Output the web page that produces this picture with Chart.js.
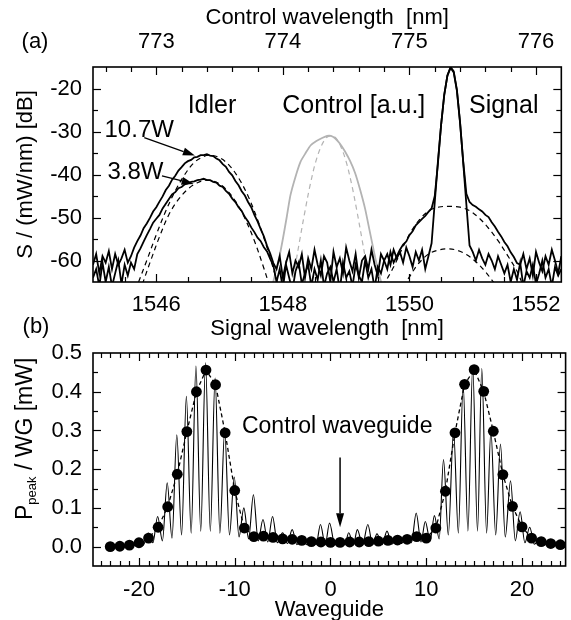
<!DOCTYPE html>
<html><head><meta charset="utf-8">
<script src="https://cdn.jsdelivr.net/npm/chart.js@4.4.1/dist/chart.umd.min.js"></script>
<style>
html,body{margin:0;padding:0;background:#fff;overflow:hidden;width:571px;height:620px;}
#ca{position:absolute;left:0;top:0;}
#cb{position:absolute;left:0;top:300px;}
</style></head><body>
<canvas id="ca" width="571" height="345"></canvas>
<canvas id="cb" width="571" height="320"></canvas>
<script>
// ---------------- DATA: panel (a) ----------------
const sigTicks = [1546, 1548, 1550, 1552];
const ctrlTicks = [773, 774, 775, 776];
const dbTicks = [-60, -50, -40, -30, -20];

const wlGrid = [
1545.00,1545.05,1545.10,1545.15,1545.20,1545.25,1545.30,1545.35,1545.40,1545.45,
1545.50,1545.55,1545.60,1545.65,1545.70,1545.75,1545.80,1545.85,1545.90,1545.95,
1546.00,1546.05,1546.10,1546.15,1546.20,1546.25,1546.30,1546.35,1546.40,1546.45,
1546.50,1546.55,1546.60,1546.65,1546.70,1546.75,1546.80,1546.85,1546.90,1546.95,
1547.00,1547.05,1547.10,1547.15,1547.20,1547.25,1547.30,1547.35,1547.40,1547.45,
1547.50,1547.55,1547.60,1547.65,1547.70,1547.75,1547.80,1547.85,1547.90,1547.95,
1548.00,1548.05,1548.10,1548.15,1548.20,1548.25,1548.30,1548.35,1548.40,1548.45,
1548.50,1548.55,1548.60,1548.65,1548.70,1548.75,1548.80,1548.85,1548.90,1548.95,
1549.00,1549.05,1549.10,1549.15,1549.20,1549.25,1549.30,1549.35,1549.40,1549.45,
1549.50,1549.55,1549.60,1549.65,1549.70,1549.75,1549.80,1549.85,1549.90,1549.95,
1550.00,1550.05,1550.10,1550.15,1550.20,1550.25,1550.30,1550.35,1550.40,1550.45,
1550.50,1550.55,1550.60,1550.65,1550.70,1550.75,1550.80,1550.85,1550.90,1550.95,
1551.00,1551.05,1551.10,1551.15,1551.20,1551.25,1551.30,1551.35,1551.40,1551.45,
1551.50,1551.55,1551.60,1551.65,1551.70,1551.75,1551.80,1551.85,1551.90,1551.95,
1552.00,1552.05,1552.10,1552.15,1552.20,1552.25,1552.30,1552.35,1552.40];

const spec107W = [
-61,-58.5,-63,-59,-60.5,-57.8,-62,-58.5,-61,-59.5,
-57.5,-60.5,-59,-57,-55.5,-54.2,-52.5,-51.4,-50.1,-48.6,
-47.6,-46.3,-45.1,-43.6,-42.6,-41.2,-40.3,-39.1,-38.3,-37.4,
-36.9,-36.6,-36.0,-35.9,-35.5,-35.5,-35.3,-35.6,-35.7,-36.3,
-36.7,-37.6,-38.2,-39.4,-40.2,-41.5,-42.5,-43.9,-44.9,-46.4,
-47.6,-49.4,-50.9,-52.7,-54.4,-56.6,-58.4,-60.6,-62,-59,
-64,-60.5,-58,-63,-60,-61.5,-58.5,-64,-59.5,-62,
-57.5,-61,-63.5,-59,-60.5,-65,-58,-61.5,-59.5,-63,
-57,-60,-62.5,-58.5,-64,-60,-59,-62,-57.5,-61,
-63.5,-58.5,-60,-62,-58,-60.5,-59,-57.5,-56.3,-55.6,
-54.1,-53.2,-51.8,-51.1,-50.3,-49.6,-48.7,-47.9,-45,-37.5,
-28.5,-21.5,-17,-15.2,-16.3,-20.5,-28,-37,-44.5,-46.4,
-47.1,-47.5,-48.1,-48.6,-49.4,-49.9,-51.1,-52.1,-53.3,-54.4,
-55.7,-56.7,-58.1,-59.2,-60.6,-61,-58.5,-62,-59.5,-63.5,
-58,-60.5,-62.5,-59,-61,-57.5,-60,-63,-59];

const spec38W = [
-64,-62,-66,-60.5,-65,-61.5,-66,-63,-60,-65.5,
-61,-63.5,-60.5,-62,-58.5,-57.2,-55.6,-54.1,-52.7,-51.2,
-50.3,-49.4,-47.9,-46.8,-45.7,-44.6,-44.1,-43.2,-42.9,-42.3,
-42.1,-41.7,-41.6,-41.3,-41.2,-41.0,-41.3,-41.3,-41.7,-41.9,
-42.6,-42.9,-43.8,-44.5,-45.6,-46.4,-47.6,-48.5,-49.9,-50.9,
-52.3,-53.4,-54.7,-55.5,-56.9,-57.9,-59.6,-61.2,-65,-62,
-66.5,-61,-64,-67,-62.5,-60.5,-65.5,-63,-61,-66,
-62,-64.5,-60,-66,-63,-61.5,-65,-62,-67,-60.5,
-64,-62.5,-66,-61,-63.5,-65,-60,-64,-62,-66.5,
-61.5,-63,-60,-58.5,-61,-57.5,-59.5,-58,-60.5,-57,
-59,-61.5,-58,-60,-57.5,-62,-59,-56,-46.5,-37,
-28.5,-21.5,-17,-15.0,-16,-20.3,-27.8,-37.3,-47,-56.5,
-58,-60,-57.5,-59.5,-61,-58.5,-60,-62,-59,-61,
-63,-61,-65,-62,-64.5,-60.5,-66,-62.5,-64,-61,
-65.5,-63,-60,-64,-62,-66,-61.5,-63.5,-62];

const fitIdler107W = [[1545.72,-65],[1545.85,-60],[1546.00,-54],[1546.15,-48.5],[1546.30,-43.8],[1546.45,-40],[1546.60,-37.2],[1546.75,-35.8],[1546.85,-35.5],[1547.00,-36.1],[1547.15,-37.8],[1547.30,-40.8],[1547.45,-45],[1547.60,-50.5],[1547.75,-57],[1547.90,-64.5],[1547.95,-67]];
const fitIdler38W = [[1545.78,-65.5],[1545.90,-60.5],[1546.05,-54.5],[1546.20,-49.3],[1546.35,-45.8],[1546.50,-43.4],[1546.65,-41.9],[1546.80,-41.3],[1546.95,-41.8],[1547.10,-43.4],[1547.25,-46.2],[1547.40,-50.2],[1547.55,-55.4],[1547.70,-61.8],[1547.78,-65.5]];
const fitSignal107W = [[1549.58,-66],[1549.75,-61.5],[1549.90,-56.8],[1550.05,-52.7],[1550.20,-49.8],[1550.35,-48.1],[1550.50,-47.5],[1550.65,-47.4],[1550.80,-47.6],[1550.95,-48.4],[1551.10,-50.1],[1551.25,-52.5],[1551.40,-55.4],[1551.55,-58.8],[1551.70,-62.5],[1551.80,-66]];
const fitSignal38W = [[1549.90,-66],[1550.00,-63.8],[1550.10,-61.5],[1550.20,-59.8],[1550.30,-58.5],[1550.45,-57.6],[1550.60,-57.3],[1550.75,-57.6],[1550.90,-58.6],[1551.05,-60.3],[1551.20,-62.6],[1551.30,-64.5],[1551.38,-66]];
const controlSpec = [[1547.83,-66],[1547.94,-59.5],[1548.00,-55],[1548.06,-50],[1548.12,-44.8],[1548.20,-40.5],[1548.28,-37],[1548.36,-35],[1548.44,-33.2],[1548.53,-32.2],[1548.62,-31.5],[1548.70,-31.0],[1548.76,-31.0],[1548.82,-31.5],[1548.90,-32.8],[1548.98,-34.6],[1549.06,-36.8],[1549.14,-39.6],[1549.22,-43.5],[1549.30,-48],[1549.37,-53],[1549.44,-58],[1549.50,-62],[1549.57,-66]];
const controlFit = [[1548.15,-66],[1548.20,-61],[1548.27,-55],[1548.35,-48.5],[1548.43,-42.5],[1548.52,-37],[1548.61,-33.3],[1548.69,-31.4],[1548.76,-31.0],[1548.83,-31.4],[1548.91,-33.3],[1549.00,-37],[1549.09,-42.5],[1549.17,-48.5],[1549.25,-55],[1549.32,-61],[1549.37,-66]];

// ---------------- DATA: panel (b) ----------------
const wgTicks = [-20, -10, 0, 10, 20];
const powTicks = [0, 0.1, 0.2, 0.3, 0.4, 0.5];
const wgIndex = [-23,-22,-21,-20,-19,-18,-17,-16,-15,-14,-13,-12,-11,-10,-9,-8,-7,-6,-5,-4,-3,-2,-1,0,1,2,3,4,5,6,7,8,9,10,11,12,13,14,15,16,17,18,19,20,21,22,23,24];
const wgPeakPower = [0.000,0.001,0.004,0.010,0.022,0.050,0.103,0.187,0.297,0.400,0.456,0.418,0.294,0.145,0.048,0.026,0.027,0.024,0.020,0.019,0.016,0.013,0.012,0.011,0.011,0.012,0.012,0.013,0.014,0.016,0.017,0.019,0.026,0.022,0.048,0.143,0.294,0.419,0.457,0.401,0.298,0.186,0.104,0.051,0.022,0.013,0.008,0.005];
const fringe = [
[-21.05,0.006],[-20.55,0.002],[-20.05,0.012],[-19.55,0.004],[-19.05,0.035],[-18.55,0.010],
[-18.05,0.078],[-17.55,0.015],[-17.05,0.165],[-16.55,0.022],[-16.05,0.289],[-15.55,0.030],
[-15.05,0.388],[-14.55,0.035],[-14.05,0.466],[-13.55,0.040],[-13.05,0.475],[-12.55,0.040],
[-12.05,0.435],[-11.55,0.035],[-11.05,0.300],[-10.55,0.030],[-10.05,0.180],[-9.55,0.025],
[-9.05,0.100],[-8.55,0.020],[-8.05,0.134],[-7.55,0.015],[-7.05,0.070],[-6.55,0.012],
[-6.05,0.078],[-5.55,0.010],[-5.0,0.036],[-4.5,0.008],[-4.0,0.044],[-3.5,0.005],
[-3.0,0.020],[-2.5,0.005],[-2.0,0.015],[-1.5,0.005],[-1.05,0.057],[-0.55,0.005],
[-0.1,0.061],[0.45,0.005],[1.0,0.012],[1.5,0.005],[1.9,0.036],[2.4,0.005],
[2.8,0.044],[3.35,0.005],[3.9,0.057],[4.4,0.005],[4.85,0.033],[5.4,0.005],
[5.9,0.040],[6.4,0.006],[6.9,0.020],[7.4,0.008],[7.9,0.025],[8.45,0.010],
[8.95,0.087],[9.45,0.012],[9.9,0.065],[10.4,0.015],[10.85,0.080],[11.35,0.020],
[11.8,0.225],[12.3,0.030],[12.85,0.300],[13.35,0.035],[13.85,0.420],[14.35,0.040],
[14.85,0.465],[15.35,0.040],[15.8,0.460],[16.3,0.035],[16.75,0.300],[17.25,0.030],
[17.75,0.265],[18.25,0.025],[18.8,0.170],[19.3,0.015],[19.8,0.090],[20.3,0.010],
[20.8,0.050],[21.3,0.006],[21.8,0.020],[22.3,0.004],[22.8,0.008],[23.3,0.002],
[23.8,0.005],[24.3,0.002]];

// ---------------- helpers ----------------
const FF = "'Liberation Sans', Arial, Helvetica, sans-serif";
Chart.defaults.font.family = FF;
Chart.defaults.font.size = 22;
Chart.defaults.color = '#000';
const pairs = a => a.map(p => ({x: p[0], y: p[1]}));
const zipXY = (xs, ys) => xs.map((x, i) => ({x: x, y: ys[i]}));

function tickList(from, to, step, majors, majLen, minLen) {
  const out = [];
  for (let v = from; v <= to + 1e-9; v += step) {
    const r = Math.round(v * 1000) / 1000;
    const isMaj = majors.some(m => Math.abs(m - r) < 1e-6);
    out.push([r, isMaj ? majLen : minLen]);
  }
  return out;
}

const framePlugin = {
  id: 'frame',
  afterDatasetsDraw(chart, args, o) {
    const {ctx, chartArea: a} = chart;
    const X = chart.scales.x, Y = chart.scales.y;
    const T = o.topScale ? chart.scales[o.topScale] : X;
    ctx.save();
    ctx.strokeStyle = '#000';
    ctx.lineWidth = 1.2;
    const seg = (x1, y1, x2, y2) => { ctx.beginPath(); ctx.moveTo(x1, y1); ctx.lineTo(x2, y2); ctx.stroke(); };
    for (const [v, l] of o.bottom) { const p = Math.round(X.getPixelForValue(v)) + 0.5; if (p > a.left + 1 && p < a.right - 1) seg(p, a.bottom, p, a.bottom - l); }
    for (const [v, l] of o.top) { const p = Math.round(T.getPixelForValue(v)) + 0.5; if (p > a.left + 1 && p < a.right - 1) seg(p, a.top, p, a.top + l); }
    for (const [v, l] of o.side) {
      const p = Math.round(Y.getPixelForValue(v)) + 0.5;
      if (p > a.top + 1 && p < a.bottom - 1) { seg(a.left, p, a.left + l, p); seg(a.right, p, a.right - l, p); }
    }
    ctx.lineWidth = 1.6;
    ctx.strokeRect(a.left, a.top, a.right - a.left, a.bottom - a.top);
    ctx.restore();
  }
};

function arrow(ctx, x1, y1, x2, y2, hl, hw) {
  const ang = Math.atan2(y2 - y1, x2 - x1);
  const bx = x2 - hl * Math.cos(ang), by = y2 - hl * Math.sin(ang);
  ctx.beginPath(); ctx.moveTo(x1, y1); ctx.lineTo(bx, by); ctx.stroke();
  ctx.beginPath();
  ctx.moveTo(x2, y2);
  ctx.lineTo(bx + hw * Math.sin(ang), by - hw * Math.cos(ang));
  ctx.lineTo(bx - hw * Math.sin(ang), by + hw * Math.cos(ang));
  ctx.closePath(); ctx.fill();
}

const annotA = {
  id: 'annotA',
  afterDraw(chart) {
    const {ctx} = chart; const X = chart.scales.x, Y = chart.scales.y;
    ctx.save();
    ctx.fillStyle = '#000'; ctx.strokeStyle = '#000'; ctx.lineWidth = 1.3;
    ctx.textAlign = 'center'; ctx.textBaseline = 'middle';
    ctx.font = '25px ' + FF;
    ctx.fillText('Idler', X.getPixelForValue(1546.88), Y.getPixelForValue(-24.2));
    ctx.fillText('Control [a.u.]', X.getPixelForValue(1549.12), Y.getPixelForValue(-24.2));
    ctx.fillText('Signal', X.getPixelForValue(1551.49), Y.getPixelForValue(-24.2));
    ctx.font = '24px ' + FF;
    ctx.fillText('10.7W', X.getPixelForValue(1545.73), Y.getPixelForValue(-29.65));
    ctx.fillText('3.8W', X.getPixelForValue(1545.67), Y.getPixelForValue(-39.4));
    arrow(ctx, X.getPixelForValue(1545.81), Y.getPixelForValue(-31.4), X.getPixelForValue(1546.61), Y.getPixelForValue(-35.6), 12, 4);
    arrow(ctx, X.getPixelForValue(1546.09), Y.getPixelForValue(-40.3), X.getPixelForValue(1546.59), Y.getPixelForValue(-42.2), 12, 4);
    ctx.font = '22px ' + FF;
    ctx.fillText('(a)', 35, 42);
    ctx.restore();
  }
};

const annotB = {
  id: 'annotB',
  afterDraw(chart) {
    const {ctx} = chart; const X = chart.scales.x, Y = chart.scales.y;
    ctx.save();
    ctx.fillStyle = '#000'; ctx.strokeStyle = '#000'; ctx.lineWidth = 1.5;
    ctx.textAlign = 'center'; ctx.textBaseline = 'middle';
    ctx.font = '23px ' + FF;
    ctx.fillText('Control waveguide', X.getPixelForValue(0.7), Y.getPixelForValue(0.31));
    arrow(ctx, X.getPixelForValue(1), Y.getPixelForValue(0.23), X.getPixelForValue(1), Y.getPixelForValue(0.05), 14, 4);
    ctx.font = '22px ' + FF;
    ctx.fillText('(b)', 36, 27);
    // rotated y-axis title with subscript
    ctx.translate(32, 220);
    ctx.rotate(-Math.PI / 2);
    ctx.textAlign = 'left'; ctx.textBaseline = 'alphabetic';
    ctx.font = '23px ' + FF; ctx.fillText('P', 0, 0);
    let w = ctx.measureText('P').width;
    ctx.font = '13px ' + FF; ctx.fillText('peak', w, 4);
    w += ctx.measureText('peak').width;
    ctx.font = '23px ' + FF; ctx.fillText(' / WG [mW]', w, 0);
    ctx.restore();
  }
};

const noFrills = {grid: {display: false, drawTicks: false}, border: {display: false}};

// ---------------- Chart (a) ----------------
new Chart(document.getElementById('ca'), {
  type: 'line',
  data: {
    datasets: [
      {data: zipXY(wlGrid, spec107W), borderColor: '#000', borderWidth: 1.8, pointRadius: 0, tension: 0, clip: 0, order: 1},
      {data: zipXY(wlGrid, spec38W), borderColor: '#000', borderWidth: 1.8, pointRadius: 0, tension: 0, clip: 0, order: 2},
      {data: pairs(fitIdler107W), borderColor: '#000', borderWidth: 1.2, borderDash: [5, 4], pointRadius: 0, tension: 0.35, clip: 0, order: 3},
      {data: pairs(fitIdler38W), borderColor: '#000', borderWidth: 1.2, borderDash: [5, 4], pointRadius: 0, tension: 0.35, clip: 0, order: 4},
      {data: pairs(fitSignal107W), borderColor: '#000', borderWidth: 1.2, borderDash: [5, 4], pointRadius: 0, tension: 0.35, clip: 0, order: 5},
      {data: pairs(fitSignal38W), borderColor: '#000', borderWidth: 1.2, borderDash: [5, 4], pointRadius: 0, tension: 0.35, clip: 0, order: 6},
      {data: pairs(controlSpec), borderColor: '#b3b3b3', borderWidth: 1.8, pointRadius: 0, tension: 0.2, clip: 0, order: 8},
      {data: pairs(controlFit), borderColor: '#b3b3b3', borderWidth: 1.2, borderDash: [5, 4], pointRadius: 0, tension: 0.35, clip: 0, order: 9}
    ]
  },
  options: {
    responsive: false, animation: false, events: [],
    layout: {padding: {left: 0, right: 2, top: 0, bottom: 0}},
    plugins: {
      legend: {display: false}, tooltip: {enabled: false},
      frame: {
        topScale: 'x2',
        bottom: tickList(1545, 1552.4, 0.5, sigTicks, 8, 5),
        top: tickList(772.6, 776.2, 0.2, ctrlTicks, 8, 5),
        side: tickList(-65, -15, 5, dbTicks, 8, 5)
      }
    },
    scales: {
      x: Object.assign({
        type: 'linear', position: 'bottom', min: 1545, max: 1552.4,
        afterBuildTicks: s => { s.ticks = sigTicks.map(v => ({value: v})); },
        ticks: {padding: 10, maxRotation: 0, autoSkip: false, callback: v => String(v)},
        title: {display: true, text: 'Signal wavelength  [nm]', padding: {top: 0, bottom: 3}},
        afterFit: s => { s.height = 63; }
      }, noFrills),
      x2: Object.assign({
        type: 'linear', position: 'top', min: 772.5, max: 776.2,
        afterBuildTicks: s => { s.ticks = ctrlTicks.map(v => ({value: v})); },
        ticks: {padding: 12, maxRotation: 0, autoSkip: false, callback: v => String(v)},
        title: {display: true, text: 'Control wavelength  [nm]', padding: {top: 5, bottom: 0}},
        afterFit: s => { s.height = 67; }
      }, noFrills),
      y: Object.assign({
        type: 'linear', position: 'left', min: -65, max: -15,
        afterBuildTicks: s => { s.ticks = dbTicks.map(v => ({value: v})); },
        ticks: {padding: 11, autoSkip: false, callback: v => String(v)},
        title: {display: true, text: 'S / (mW/nm) [dB]', padding: {top: 13, bottom: 0}},
        afterFit: s => { s.width = 93; }
      }, noFrills)
    }
  },
  plugins: [framePlugin, annotA]
});

// ---------------- Chart (b) ----------------
new Chart(document.getElementById('cb'), {
  type: 'line',
  data: {
    datasets: [
      {data: zipXY(wgIndex, wgPeakPower), borderColor: '#000', borderWidth: 1.3, borderDash: [4, 3],
       pointRadius: 5.4, pointBackgroundColor: '#000', pointBorderWidth: 0, tension: 0, clip: 0, order: 0},
      {data: pairs(fringe), borderColor: '#000', borderWidth: 1.1, pointRadius: 0, cubicInterpolationMode: 'monotone', clip: 0, order: 1}
    ]
  },
  options: {
    responsive: false, animation: false, events: [],
    layout: {padding: {left: 0, right: 2, top: 53, bottom: 0}},
    plugins: {
      legend: {display: false}, tooltip: {enabled: false},
      frame: {
        bottom: tickList(-24, 24, 1, wgTicks, 8, 5),
        top: tickList(-24, 24, 1, wgTicks, 8, 5),
        side: tickList(-0.05, 0.5, 0.05, powTicks, 8, 5)
      }
    },
    scales: {
      x: Object.assign({
        type: 'linear', position: 'bottom', min: -24.8, max: 24.55,
        afterBuildTicks: s => { s.ticks = wgTicks.map(v => ({value: v})); },
        ticks: {padding: 11, maxRotation: 0, autoSkip: false, callback: v => String(v)},
        title: {display: true, text: 'Waveguide', font: {size: 22, lineHeight: 0.9}, padding: 0},
        afterFit: s => { s.height = 54; }
      }, noFrills),
      y: Object.assign({
        type: 'linear', position: 'left', min: -0.05, max: 0.5,
        afterBuildTicks: s => { s.ticks = powTicks.map(v => ({value: v})); },
        ticks: {padding: 11, autoSkip: false, callback: v => Number(v).toFixed(1)},
        afterFit: s => { s.width = 93; }
      }, noFrills)
    }
  },
  plugins: [framePlugin, annotB]
});
</script>
</body></html>
